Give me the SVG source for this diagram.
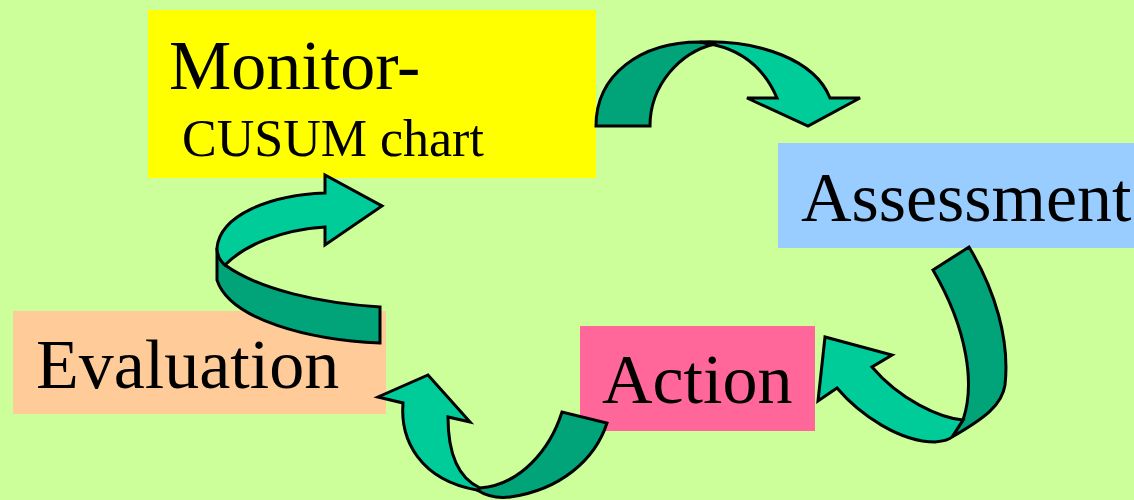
<svg xmlns="http://www.w3.org/2000/svg" width="1134" height="500" viewBox="0 0 1134 500">
<style>
.t{font-family:"Liberation Serif","Times New Roman",serif;fill:#000}
.big{font-size:70px}
.small{font-size:52px}
.dk{fill:#00A478;stroke:#000;stroke-width:3;stroke-linejoin:miter}
.lt{fill:#00CC99;stroke:#000;stroke-width:3;stroke-linejoin:miter}
</style>
<rect width="1134" height="500" fill="#CCFF99"/>
<g id="monitor">
<rect x="148" y="10" width="448" height="168" fill="#FFFF00"/>
<text class="t big" x="169" y="89">Monitor-</text>
<text class="t small" x="182" y="156">CUSUM chart</text>
</g>
<g id="assessment">
<rect x="778" y="143" width="356" height="105" fill="#99CCFF"/>
<text class="t big" x="801" y="221">Assessment</text>
</g>
<g id="action">
<rect x="580" y="326" width="235" height="105" fill="#FF6699"/>
<text class="t big" x="602" y="403">Action</text>
</g>
<g id="evaluation">
<rect x="13" y="311" width="373" height="103" fill="#FFCC99"/>
<text class="t big" x="36" y="388">Evaluation</text>
</g>
<g id="connectors">
<g id="arrow-monitor-assessment">
<path class="dk" d="M596,126 C596,75 640,42 700,42 L715,44 C680,52 650,85 650,126 Z"/>
<path class="lt" d="M700,42 C760,40 815,60 830,98 L860,98 L808,126 L747,98 L777,98 C765,70 745,52 715,45 Z"/>
</g>
<g id="arrow-assessment-action">
<path class="dk" d="M969,247 C995,290 1010,340 1005,385 C1002,405 985,418 952,437 L963,420 C975,385 968,330 933,270 Z"/>
<path class="lt" d="M963,420 C940,418 900,400 872,367 L892,355 L825,337 L818,401 L837,388 C860,415 900,442 935,442 C945,441 950,439 952,437 Z"/>
</g>
<g id="arrow-action-evaluation">
<path class="dk" d="M607,423 C595,460 560,490 510,497 C495,499 485,495 477,490 L480,488 C520,485 550,450 562,412 Z"/>
<path class="lt" d="M480,488 C458,478 448,455 448,417 L470,422 L428,375 L378,397 L403,403 C400,440 420,480 477,490 Z"/>
</g>
<g id="arrow-evaluation-monitor">
<path class="dk" d="M380,307 L380,343 C310,340 230,320 217,280 L217,248 C219,257 221,262 225,265 C260,290 320,303 380,307 Z"/>
<path class="lt" d="M217,248 C220,215 270,195 325,193 L325,175 L382,206 L325,245 L325,227 C280,230 245,245 225,265 C219,260 217,255 217,248 Z"/>
</g>
</g>
</svg>
